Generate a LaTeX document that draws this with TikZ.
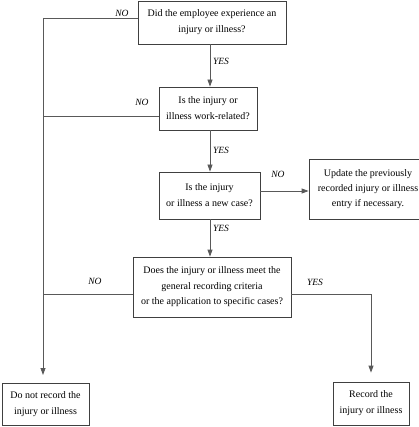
\documentclass[tikz,border=0pt]{standalone}
\usepackage{fontspec}
\setmainfont{Liberation Serif}
\usetikzlibrary{arrows.meta}
\begin{document}
\begin{tikzpicture}[x=1pt,y=-1pt,
  box/.style={draw=black!75,line width=0.8pt,align=center,inner sep=2pt,
    font=\fontsize{10}{16}\selectfont},
  conn/.style={draw=black!65,line width=0.8pt},
  arr/.style={conn,-{Triangle[length=7pt,width=5pt]}},
  lab/.style={font=\fontsize{9.5}{11}\selectfont\itshape,inner sep=0pt}]
\useasboundingbox (0,0) rectangle (418,427);
\node[box,minimum width=148pt,minimum height=43pt] (b1) at (212,22.5)
  {Did the employee experience an\\injury or illness?};
\node[box,minimum width=98pt,minimum height=43pt] (b2) at (208,108.5)
  {Is the injury or\\illness work-related?};
\node[box,minimum width=101pt,minimum height=47pt] (b3) at (209.5,195.5)
  {Is the injury\\or illness a new case?};
\node[box,minimum width=118pt,minimum height=60pt,font=\fontsize{10}{15}\selectfont] (b4) at (368,189)
  {Update the previously\\recorded injury or illness\\entry if necessary.};
\node[box,minimum width=158pt,minimum height=60pt,font=\fontsize{10}{15.5}\selectfont] (b5) at (212,287)
  {Does the injury or illness meet the\\general recording criteria\\or the application to specific cases?};
\node[box,minimum width=87pt,minimum height=42pt] (b6) at (45.5,404)
  {Do not record the\\injury or illness};
\node[box,minimum width=76pt,minimum height=43pt] (b7) at (371,403.5)
  {Record the\\injury or illness};
\coordinate (ltop) at (43,18);
\coordinate (lbot) at (43,383);
% labels
\node[lab] (no1) at (122,13) {NO};
\node[lab] (no2) at (142,102) {NO};
\node[lab] (no3) at (278,174) {NO};
\node[lab] (no4) at (95,281) {NO};
\node[lab] (yes1) at (221,61) {YES};
\node[lab] (yes2) at (221,150) {YES};
\node[lab] (yes3) at (221,228) {YES};
\node[lab] (yes4) at (315,282) {YES};
% connectors
\draw[arr] (b1.south -| 210,0) -- (b2.north -| 210,0);
\draw[arr] (b2.south -| 210,0) -- (b3.north -| 210,0);
\draw[arr] (b3.south -| 210,0) -- (b5.north -| 210,0);
\draw[arr] ([yshift=4.5pt]b3.east) -- ([yshift=4.5pt]b3.east -| b4.west);
\draw[conn] ([yshift=4.5pt]b1.west) -- (ltop);
\draw[arr,shorten >=8pt] (ltop) -- (lbot);
\draw[conn] ([yshift=-7.5pt]b2.west) -- ([yshift=-7.5pt]b2.west -| ltop);
\draw[conn] ([yshift=-7pt]b5.west) -- ([yshift=-7pt]b5.west -| ltop);
\draw[arr,shorten >=9pt] ([yshift=-7pt]b5.east) -| (b7.north);
\end{tikzpicture}
\end{document}
